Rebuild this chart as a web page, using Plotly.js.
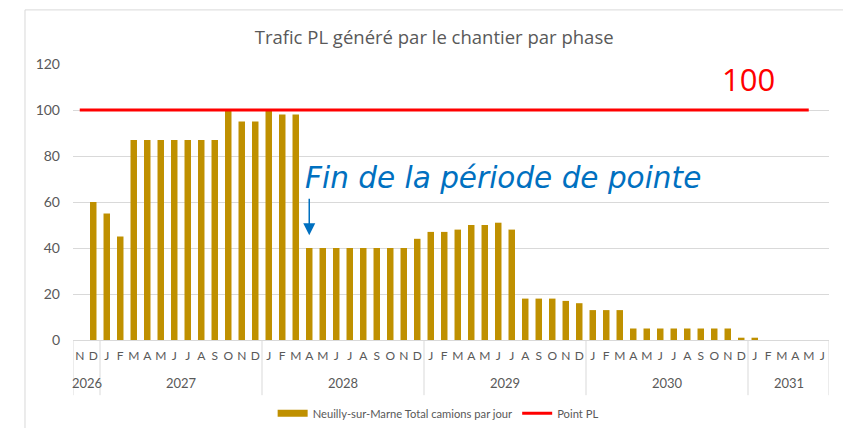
<!DOCTYPE html>
<html><head><meta charset="utf-8">
<script src="https://cdn.plot.ly/plotly-3.0.1.min.js"></script>
<style>html,body{margin:0;padding:0;background:#fff;overflow:hidden}#chart{width:843px;height:428px}</style>
</head><body><div id="chart"></div>
<script>
const monthLabels = ["N","D",
  "J","F","M","A","M","J","J","A","S","O","N","D",
  "J","F","M","A","M","J","J","A","S","O","N","D",
  "J","F","M","A","M","J","J","A","S","O","N","D",
  "J","F","M","A","M","J","J","A","S","O","N","D",
  "J","F","M","A","M","J"];
const yearOfMonth = [2026,2026,
  2027,2027,2027,2027,2027,2027,2027,2027,2027,2027,2027,2027,
  2028,2028,2028,2028,2028,2028,2028,2028,2028,2028,2028,2028,
  2029,2029,2029,2029,2029,2029,2029,2029,2029,2029,2029,2029,
  2030,2030,2030,2030,2030,2030,2030,2030,2030,2030,2030,2030,
  2031,2031,2031,2031,2031,2031];
const trucksPerDay = [null,60,
  55,45,87,87,87,87,87,87,87,100,95,95,
  100,98,98,40,40,40,40,40,40,40,40,44,
  47,47,48,50,50,51,48,18,18,18,17,16,
  13,13,13,5,5,5,5,5,5,5,5,1,
  1,null,null,null,null,null];
const pointPL = [100,100,
  100,100,100,100,100,100,100,100,100,100,100,100,
  100,100,100,100,100,100,100,100,100,100,100,100,
  100,100,100,100,100,100,100,100,100,100,100,100,
  100,100,100,100,100,100,100,100,100,100,100,100,
  100,100,100,100,100,null];
const yTicks = [0,20,40,60,80,100,120];
const endOfPeakIndex = 17; // A 2028

const idx = monthLabels.map((_, i) => i);
const grey = '#595959';
const fontFam = 'Lato, "Open Sans", sans-serif';
const wideFam = '"Open Sans", Lato, sans-serif';
const calloutFam = '"DejaVu Sans", "Open Sans", sans-serif';
const barColor = '#BF9000';

const years = [...new Set(yearOfMonth)];
const annotations = [];
const shapes = [];
years.forEach(y => {
  const first = yearOfMonth.indexOf(y);
  const last = yearOfMonth.lastIndexOf(y);
  annotations.push({xref:'x', yref:'paper', x:(first+last)/2, y:-0.156, yanchor:'middle',
    text:String(y), showarrow:false, font:{size:13, color:grey, family:fontFam}});
  shapes.push({type:'line', xref:'x', yref:'paper', x0:first-0.5, x1:first-0.5, y0:0, y1:-0.2,
    line:{color:'#D9D9D9', width:1}});
});
shapes.push({type:'line', xref:'x', yref:'paper', x0:idx.length-0.5, x1:idx.length-0.5, y0:0, y1:-0.2,
  line:{color:'#D9D9D9', width:1}});
shapes.push({type:'rect', xref:'paper', yref:'paper', x0:-0.0635, x1:1.05, y0:-0.5, y1:1.196,
  line:{color:'#D9D9D9', width:1}, fillcolor:'rgba(0,0,0,0)', layer:'below'});

annotations.push({xref:'paper', yref:'y', x:0.931, y:113.5, xanchor:'right', yanchor:'middle',
  text:'100', showarrow:false, font:{size:31, color:'#FF0000', family:wideFam}});
annotations.push({xref:'x', yref:'y', x:endOfPeakIndex-0.45, y:70.5, xanchor:'left', yanchor:'middle',
  text:'<i>Fin de la période de pointe</i>', showarrow:false, font:{size:29.5, color:'#0070C0', family:calloutFam}});
annotations.push({xref:'x', yref:'y', x:endOfPeakIndex, y:45.5, ax:0, ay:-38, text:'', showarrow:true,
  arrowhead:2, arrowsize:1.6, arrowwidth:1.5, arrowcolor:'#0070C0'});

const data = [
  {type:'bar', x:idx, y:trucksPerDay, name:'Neuilly-sur-Marne Total camions par jour',
   marker:{color:barColor}, showlegend:false},
  {type:'scatter', mode:'lines', x:[null], y:[null], name:'Neuilly-sur-Marne Total camions par jour',
   line:{color:barColor, width:7}, showlegend:true},
  {type:'scatter', mode:'lines', x:idx, y:pointPL, name:'Point PL',
   line:{color:'#FF0000', width:3}}
];

const layout = {
  width:843, height:428,
  margin:{l:73, r:14, t:64, b:88, autoexpand:false},
  paper_bgcolor:'#fff', plot_bgcolor:'#fff',
  font:{family:fontFam, color:grey},
  title:{text:'Trafic PL généré par le chantier par phase', x:0.515, xanchor:'center', y:0.913, yanchor:'middle',
    font:{size:18.5, color:grey, family:wideFam}},
  bargap:0.52,
  showlegend:true,
  legend:{orientation:'h', x:0.483, xanchor:'center', y:-0.265, yanchor:'middle',
    font:{size:11.2, color:grey, family:fontFam}, itemwidth:30, tracegroupgap:0},
  xaxis:{range:[-0.5, idx.length-0.5], tickmode:'array', tickvals:idx, ticktext:monthLabels,
    tickfont:{size:12, color:grey}, showgrid:false, zeroline:false, ticks:'', showline:true,
    linecolor:'#D9D9D9', fixedrange:true, tickangle:0, automargin:false, ticklabelstandoff:5},
  yaxis:{range:[0,120], tickmode:'array', tickvals:yTicks, showgrid:true, gridcolor:'#D9D9D9',
    zeroline:false, tickfont:{size:14, color:grey}, ticklabelstandoff:12, fixedrange:true, automargin:false},
  shapes:shapes, annotations:annotations
};
Plotly.newPlot('chart', data, layout, {displayModeBar:false, staticPlot:true});
</script></body></html>
